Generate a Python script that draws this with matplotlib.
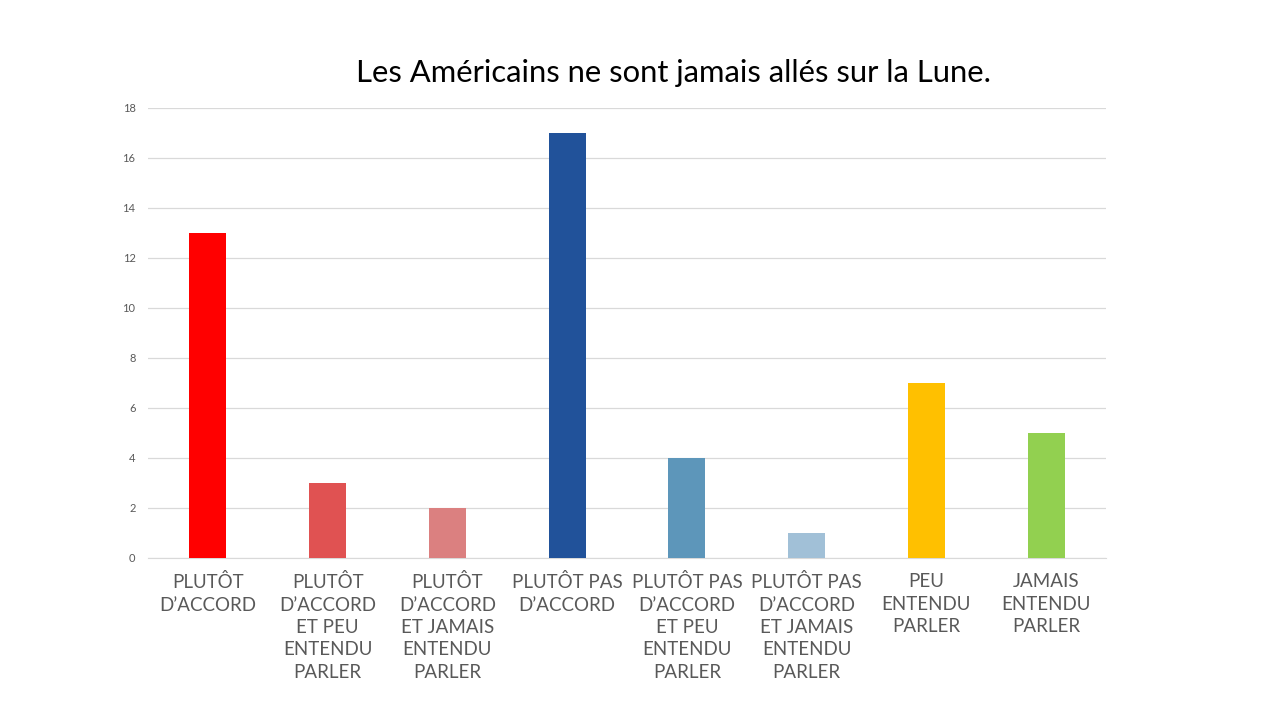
import matplotlib
matplotlib.use("Agg")
import matplotlib.pyplot as plt

# data
categories = [
    "PLUTÔT\nD’ACCORD",
    "PLUTÔT\nD’ACCORD\nET PEU\nENTENDU\nPARLER",
    "PLUTÔT\nD’ACCORD\nET JAMAIS\nENTENDU\nPARLER",
    "PLUTÔT PAS\nD’ACCORD",
    "PLUTÔT PAS\nD’ACCORD\nET PEU\nENTENDU\nPARLER",
    "PLUTÔT PAS\nD’ACCORD\nET JAMAIS\nENTENDU\nPARLER",
    "PEU\nENTENDU\nPARLER",
    "JAMAIS\nENTENDU\nPARLER",
]
values = [13, 3, 2, 17, 4, 1, 7, 5]
colors = ["#FF0000", "#E05252", "#DB8080", "#21529A",
          "#5D96BA", "#A1C0D7", "#FFC000", "#92D050"]
yticks = [0, 2, 4, 6, 8, 10, 12, 14, 16, 18]

plt.rcParams['font.family'] = ['Lato', 'DejaVu Sans']

fig = plt.figure(figsize=(12.8, 7.2), dpi=100)
ax = fig.add_axes([148 / 1280, 1 - 558 / 720, (1106 - 148) / 1280, 450 / 720])

x = range(len(categories))
ax.bar(x, values, width=0.31, color=colors, zorder=3)

ax.set_xlim(-0.5, len(categories) - 0.5)
ax.set_ylim(0, 18)
ax.set_yticks(yticks)
ax.set_yticklabels([str(t) for t in yticks], fontsize=8, color="#595959")
ax.set_xticks(list(x))
ax.set_xticklabels(categories, fontsize=13.5, color="#595959",
                   linespacing=1.38, va="top")
ax.tick_params(axis="both", length=0)
ax.tick_params(axis="x", pad=11)
ax.tick_params(axis="y", pad=9)

ax.grid(axis="y", color="#D9D9D9", linewidth=0.9, zorder=0)
for side in ["top", "right", "left"]:
    ax.spines[side].set_visible(False)
ax.spines["bottom"].set_color("#D9D9D9")

fig.text(673 / 1280, 1 - 73 / 720, "Les Américains ne sont jamais allés sur la Lune.",
         ha="center", va="center", fontsize=22.3, color="black")

fig.savefig("out.png", dpi=100, facecolor="white")
